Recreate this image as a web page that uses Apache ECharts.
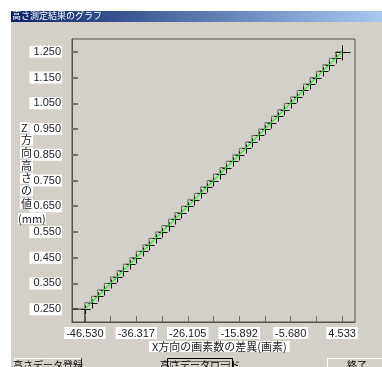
<!DOCTYPE html>
<html>
<head>
<meta charset="utf-8">
<script src="https://cdn.jsdelivr.net/npm/echarts@6/dist/echarts.min.js"></script>
<style>
  html, body { margin: 0; padding: 0; background: #ffffff; }
  #chart { width: 382px; height: 367px; }
</style>
</head>
<body>
<div id="chart"></div>
<script>
// Measured pixel-count difference along X and the matching Z height (mm)
const xDiff = [
  -46.530, -45.21, -43.98, -42.66, -41.43, -40.12, -38.89, -37.57, -36.32, -35.02,
  -33.79, -32.46, -31.22, -29.92, -28.67, -27.35, -26.11, -24.80, -23.56, -22.25,
  -21.00, -19.70, -18.46, -17.14, -15.89, -14.60, -13.35, -12.03, -10.79, -9.49,
  -8.24, -6.93, -5.68, -4.38, -3.14, -1.82, -0.57, 0.73, 1.98, 3.28, 4.533
];
const zHeight = [
  0.250, 0.275, 0.300, 0.325, 0.350, 0.375, 0.400, 0.425, 0.450, 0.475,
  0.500, 0.525, 0.550, 0.575, 0.600, 0.625, 0.650, 0.675, 0.700, 0.725,
  0.750, 0.775, 0.800, 0.825, 0.850, 0.875, 0.900, 0.925, 0.950, 0.975,
  1.000, 1.025, 1.050, 1.075, 1.100, 1.125, 1.150, 1.175, 1.200, 1.225, 1.250
];
// Axis tick positions and labelled values
const xTicks = [-46.530, -41.424, -36.317, -31.211, -26.105, -20.999, -15.892, -10.786, -5.680, -0.574, 4.533];
const xLabels = [-46.530, -36.317, -26.105, -15.892, -5.680, 4.533];
const yTicks = [0.25, 0.35, 0.45, 0.55, 0.65, 0.75, 0.85, 0.95, 1.05, 1.15, 1.25];
const xRange = [-49.083, 7.086];
const yRange = [0.20, 1.30];

const windowTitle = '高さ測定結果のグラフ';
const xTitle = 'X方向の画素数の差異(画素)';
const yTitleChars = ['Z', '方', '向', '高', 'さ', 'の', '値'];
const yTitleUnit = '(mm)';
const buttonTexts = ['高さデータ登録', '高さデータロード', '終了'];

const FACE = '#d4d0c8';
const UI_FONT = '"Noto Sans CJK JP", "DejaVu Sans", sans-serif';
const NUM_FONT = '"Liberation Sans", Arial, sans-serif';

const points = xDiff.map((x, i) => [x, zHeight[i]]);
const last = xDiff.length - 1;
const fitLine = [[xDiff[0], zHeight[0]], [xDiff[last], zHeight[last]]];
// guide lines from the first point back to both axes
const startGuideH = [[xRange[0], zHeight[0]], [xDiff[0], zHeight[0]]];
const startGuideV = [[xDiff[0], yRange[0]], [xDiff[0], zHeight[0]]];

const chart = echarts.init(document.getElementById('chart'), null, { renderer: 'canvas' });

function crisp(v) { return Math.round(v) + 0.5; }

function button(x, y, w, h, label, isDefault) {
  const children = [
    { type: 'rect', shape: { x: x, y: y, width: w, height: h }, style: { fill: FACE } },
    { type: 'polyline', shape: { points: [[x + 0.5, y + h], [x + 0.5, y + 0.5], [x + w, y + 0.5]] }, style: { stroke: '#ffffff', lineWidth: 1, fill: null } },
    { type: 'polyline', shape: { points: [[x + w - 0.5, y], [x + w - 0.5, y + h]] }, style: { stroke: '#404040', lineWidth: 1 } },
    { type: 'text', style: { x: x + w / 2, y: y + 7, text: label, fill: '#000', font: '10px ' + UI_FONT, align: 'center', verticalAlign: 'middle' } }
  ];
  if (isDefault) {
    children.push({ type: 'rect', shape: { x: x + 0.5, y: y + 0.5, width: w - 1, height: h }, style: { fill: null, stroke: '#000', lineWidth: 1 } });
    children.push({ type: 'rect', shape: { x: x + 3.5, y: y + 3.5, width: w - 7, height: h }, style: { fill: null, stroke: '#000', lineWidth: 1, lineDash: [1, 1] } });
  }
  return { type: 'group', children: children, z: 10 };
}

const yTitleGraphics = yTitleChars.map((ch, i) => ({
  type: 'text',
  left: 20, top: 122 + i * 12.7,
  style: { text: ch, fill: '#222', font: '11px ' + UI_FONT, backgroundColor: '#fff', padding: [0, 1] },
  z: 5
}));

function guide(data) {
  return { type: 'line', data: data, symbol: 'none', z: 2, silent: true, lineStyle: { color: '#202020', width: 1 } };
}

const option = {
  animation: false,
  backgroundColor: '#ffffff',
  graphic: [
    // window face
    { type: 'rect', shape: { x: 11, y: 11, width: 371, height: 356 }, style: { fill: FACE }, z: -10 },
    // title bar
    {
      type: 'rect', shape: { x: 11, y: 11, width: 371, height: 11 },
      style: { fill: new echarts.graphic.LinearGradient(0, 0, 1, 0, [{ offset: 0, color: '#0a246a' }, { offset: 1, color: '#a6caf0' }]) },
      z: -9
    },
    { type: 'text', left: 12, top: 11, style: { text: windowTitle, fill: '#ffffff', font: '9px ' + UI_FONT }, z: -8 },
    ...yTitleGraphics,
    { type: 'text', left: 18, top: 213, style: { text: yTitleUnit, fill: '#222', font: '11px ' + UI_FONT, backgroundColor: '#fff' }, z: 5 },
    { type: 'text', left: 149, top: 341, style: { text: xTitle, fill: '#222', font: '11px ' + UI_FONT, backgroundColor: '#fff', padding: [0, 3, 0, 3] }, z: 5 },
    button(14, 358, 68, 14, buttonTexts[0], false),
    button(167, 358, 66, 14, buttonTexts[1], true),
    button(327, 358, 60, 14, buttonTexts[2], false)
  ],
  grid: {
    left: 72, top: 39, right: 27, bottom: 45,
    show: true, borderColor: '#505050', borderWidth: 1, backgroundColor: 'transparent'
  },
  xAxis: {
    type: 'value', min: xRange[0], max: xRange[1],
    axisLine: { show: true, onZero: false, lineStyle: { color: '#505050', width: 1 } },
    splitLine: { show: false },
    axisTick: { show: true, inside: true, length: 6, customValues: xTicks, lineStyle: { color: '#707070', width: 1 } },
    axisLabel: {
      customValues: xLabels, margin: 5,
      formatter: v => v.toFixed(3),
      color: '#222', fontFamily: NUM_FONT, fontSize: 11,
      backgroundColor: '#ffffff', padding: [1, 2, 0, 2]
    }
  },
  yAxis: {
    type: 'value', min: yRange[0], max: yRange[1],
    axisLine: { show: true, onZero: false, lineStyle: { color: '#505050', width: 1 } },
    splitLine: { show: false },
    axisTick: { show: true, inside: true, length: 6, customValues: yTicks, lineStyle: { color: '#707070', width: 2 } },
    axisLabel: {
      customValues: yTicks, margin: 10,
      formatter: v => v.toFixed(3),
      color: '#222', fontFamily: NUM_FONT, fontSize: 11,
      backgroundColor: '#ffffff', padding: [1, 1, 0, 4]
    }
  },
  series: [
    {
      // measured points drawn as "+" marks
      type: 'custom',
      data: points,
      clip: false,
      z: 3,
      renderItem: function (params, api) {
        const p = api.coord([api.value(0), api.value(1)]);
        const cx = crisp(p[0]), cy = crisp(p[1]);
        const s = params.dataIndex === last ? 7 : 4;
        return {
          type: 'group',
          children: [
            { type: 'line', shape: { x1: cx - s, y1: cy, x2: cx + s + 1, y2: cy }, style: { stroke: '#101010', lineWidth: 1 } },
            { type: 'line', shape: { x1: cx, y1: cy - s, x2: cx, y2: cy + s + 1 }, style: { stroke: '#101010', lineWidth: 1 } }
          ]
        };
      }
    },
    {
      // staircase between consecutive points
      type: 'line', data: points, step: 'start', symbol: 'none', z: 2,
      lineStyle: { color: '#6a6a6a', width: 1 }
    },
    guide(startGuideH),
    guide(startGuideV),
    {
      // straight fit from first to last point
      type: 'line', data: fitLine, symbol: 'none', z: 5,
      lineStyle: { color: '#2ee82e', width: 1.3 }
    }
  ]
};

chart.setOption(option);
</script>
</body>
</html>
